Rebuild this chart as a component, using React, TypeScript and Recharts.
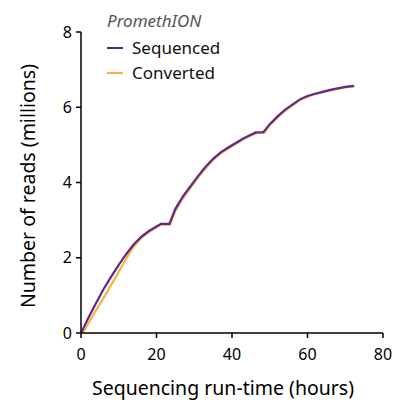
import React from "react";
import { LineChart, Line, XAxis, YAxis } from "recharts";

const FONT = "'Noto Sans', 'Open Sans', sans-serif";

const seqHours = [0, 2, 4, 6, 8, 10, 12, 14, 16, 18, 20, 21.2, 23.4, 25, 27, 29, 31, 33, 35, 37, 39, 41, 43, 45, 46.3, 48.3, 50, 52, 54, 56, 58, 60, 62, 64, 66, 68, 70, 72.3];
const seqReads = [0, 0.41, 0.8, 1.17, 1.5, 1.81, 2.1, 2.36, 2.56, 2.71, 2.83, 2.9, 2.9, 3.3, 3.63, 3.9, 4.17, 4.42, 4.63, 4.8, 4.93, 5.05, 5.17, 5.27, 5.33, 5.34, 5.55, 5.75, 5.93, 6.07, 6.21, 6.3, 6.36, 6.41, 6.46, 6.5, 6.54, 6.57];

const convHours = [0.5, 3, 6.4, 9, 12.1, 14, 16, 18, 20, 21.2, 23.6, 25, 27, 29, 31, 33, 35, 37, 39, 41, 43, 45, 46.5, 48.5, 50, 52, 54, 56, 58, 60, 62, 64, 66, 68, 70, 72.5];
const convReads = [0, 0.44, 1.0, 1.45, 2.0, 2.3, 2.53, 2.69, 2.81, 2.88, 2.88, 3.24, 3.58, 3.86, 4.13, 4.38, 4.6, 4.77, 4.9, 5.03, 5.15, 5.25, 5.31, 5.32, 5.52, 5.72, 5.9, 6.05, 6.19, 6.28, 6.35, 6.4, 6.45, 6.49, 6.53, 6.56];

const xTicks = [0, 20, 40, 60, 80];
const yTicks = [0, 2, 4, 6, 8];

const legendTitle = "PromethION";
const seriesNames = ["Sequenced", "Converted"];
const seriesColors = ["#5b2a8e", "#fbb03b"];

const sequenced = seqHours.map((h, i) => ({ hours: h, reads: seqReads[i] }));
const converted = convHours.map((h, i) => ({ hours: h, reads: convReads[i] }));

const LegendBox = () => (
  <div style={{ position: "absolute", left: 107, top: 7, fontFamily: FONT }}>
    <div style={{ fontStyle: "italic", color: "#555", fontSize: 17, lineHeight: "28px" }}>{legendTitle}</div>
    {seriesNames.map((n, i) => (
      <div key={n} style={{ display: "flex", alignItems: "center", fontSize: 17, lineHeight: "25px", color: "#111" }}>
        <span style={{ display: "inline-block", width: 16, height: 2, background: seriesColors[i], marginRight: 9 }} />
        {n}
      </div>
    ))}
  </div>
);

export default function App() {
  return (
    <div style={{ position: "absolute", left: 0, top: 0, width: 393, height: 403, background: "#fff" }}>
      <LineChart width={393} height={403} margin={{ top: 32, right: 10, bottom: 0, left: 0 }}>
        <XAxis
          dataKey="hours"
          type="number"
          domain={[0, 80]}
          ticks={xTicks}
          allowDataOverflow
          height={70}
          tickSize={5}
          tickMargin={11}
          stroke="#000"
          strokeWidth={1.5}
          tick={{ fill: "#000", fontSize: 16, fontFamily: FONT }}
          label={{
            content: () => (
              <text x={223} y={395} textAnchor="middle" fontSize={19.5} fontFamily={FONT} fill="#000">
                Sequencing run-time (hours)
              </text>
            ),
          }}
        />
        <YAxis
          dataKey="reads"
          type="number"
          domain={[0, 8]}
          ticks={yTicks}
          width={81}
          tickSize={5}
          tickMargin={4}
          stroke="#000"
          strokeWidth={1.5}
          tick={{ fill: "#000", fontSize: 16, fontFamily: FONT }}
          label={{
            content: () => (
              <text
                x={27}
                y={186}
                transform="rotate(-90 27 186)"
                textAnchor="middle"
                dominantBaseline="central"
                fontSize={19.5}
                fontFamily={FONT}
                fill="#000"
              >
                Number of reads (millions)
              </text>
            ),
          }}
        />
        <Line
          data={converted}
          dataKey="reads"
          name="Converted"
          stroke={seriesColors[1]}
          strokeWidth={2.2}
          dot={false}
          type="linear"
          isAnimationActive={false}
        />
        <Line
          data={sequenced}
          dataKey="reads"
          name="Sequenced"
          stroke={seriesColors[0]}
          strokeWidth={2.2}
          dot={false}
          type="linear"
          isAnimationActive={false}
        />
      </LineChart>
      <LegendBox />
    </div>
  );
}
